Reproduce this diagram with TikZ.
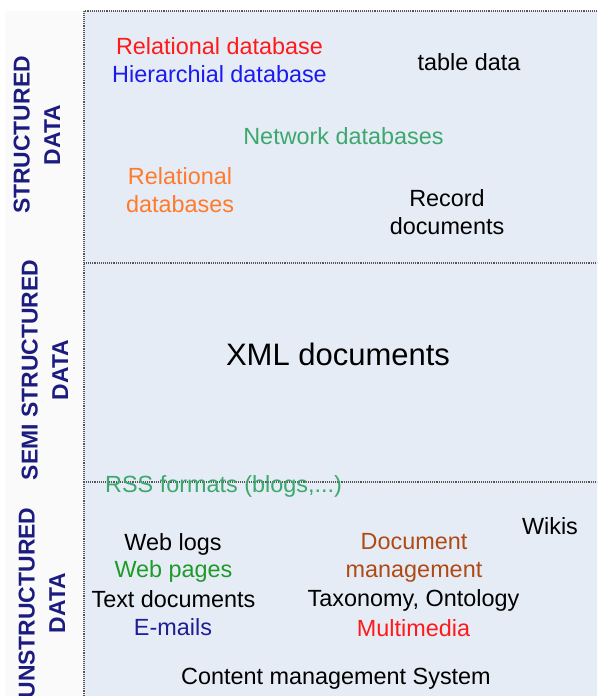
\documentclass[tikz,border=0pt]{standalone}
\usepackage{fontspec}
\setmainfont{Liberation Sans}
\begin{document}
\begin{tikzpicture}[x=1pt,y=-1pt,
  lbl/.style={font=\fontsize{23.4}{28}\selectfont, align=center, inner sep=0pt},
  big/.style={font=\fontsize{31}{36}\selectfont, inner sep=0pt},
  side/.style={font=\fontsize{22.9}{30.5}\selectfont\bfseries, text=navy, align=center,
               rotate=90, inner sep=0pt},
  sep/.style={draw=sepgray, line width=1.1pt, dash pattern=on 1pt off 0.9pt}
]
\definecolor{panel}{HTML}{E6ECF6}
\definecolor{strip}{HTML}{FAFAFA}
\definecolor{sepgray}{HTML}{555555}
\definecolor{navy}{HTML}{1C1C80}
\definecolor{relred}{HTML}{FF1A1A}
\definecolor{hierblue}{HTML}{1A1AF0}
\definecolor{netgreen}{HTML}{3CA86E}
\definecolor{relorange}{HTML}{FF7A2A}
\definecolor{webgreen}{HTML}{1E9A28}
\definecolor{mailblue}{HTML}{1E1E96}
\definecolor{docbrown}{HTML}{B04A14}

\useasboundingbox (0,0) rectangle (597,696);
\begin{scope}
\clip (0,0) rectangle (597,696);

% background of the label strip and the main panel
\fill[strip] (5,11) rectangle (84,700);
\fill[panel] (84,11) rectangle (600,700);

% panel borders and band separators
\draw[sep] (84,700) -- (84,11) -- (600,11);
\draw[sep] (84,263) -- (600,263);
\draw[sep] (84,482) -- (600,482);

% band titles
\node[side] (tS) at (37,135) {STRUCTURED\\DATA};
\node[side] (tM) at (45,370) {SEMI STRUCTURED\\DATA};
\node[side] (tU) at (42,603) {UNSTRUCTURED\\DATA};

% structured band
\node[lbl, text=relred]   (reldb)  at (219.5,46)  {Relational database};
\node[lbl, text=hierblue] (hierdb) at (219.5,74)  {Hierarchial database};
\node[lbl]                (table)  at (469,62)    {table data};
\node[lbl, text=netgreen] (netdb)  at (343.5,136) {Network databases};
\node[lbl, text=relorange](reldbs) at (180,190.5) {Relational\\databases};
\node[lbl]                (record) at (447,212)   {Record\\documents};

% semi-structured band
\node[big] (xml) at (338,354) {XML documents};
\node[lbl, text=netgreen] (rss) at (223.5,486) {RSS formats (blogs,...)};

% unstructured band
\node[lbl] (wikis)  at (550,526)   {Wikis};
\node[lbl] (weblog) at (173,544)   {Web logs};
\node[lbl, text=webgreen] (webpg) at (173.5,571) {Web pages};
\node[lbl] (textdoc) at (173.5,599) {Text documents};
\node[lbl, text=mailblue] (mail) at (173,627) {E-mails};
\node[lbl, text=docbrown] (docman) at (414,558) {Document\\management};
\node[lbl] (taxo) at (413.5,600) {Taxonomy, Ontology};
\node[lbl, text=relred] (multi) at (413.5,628) {Multimedia};
\node[lbl] (cms) at (336,678.5) {Content management System};
\end{scope}
\end{tikzpicture}
\end{document}
